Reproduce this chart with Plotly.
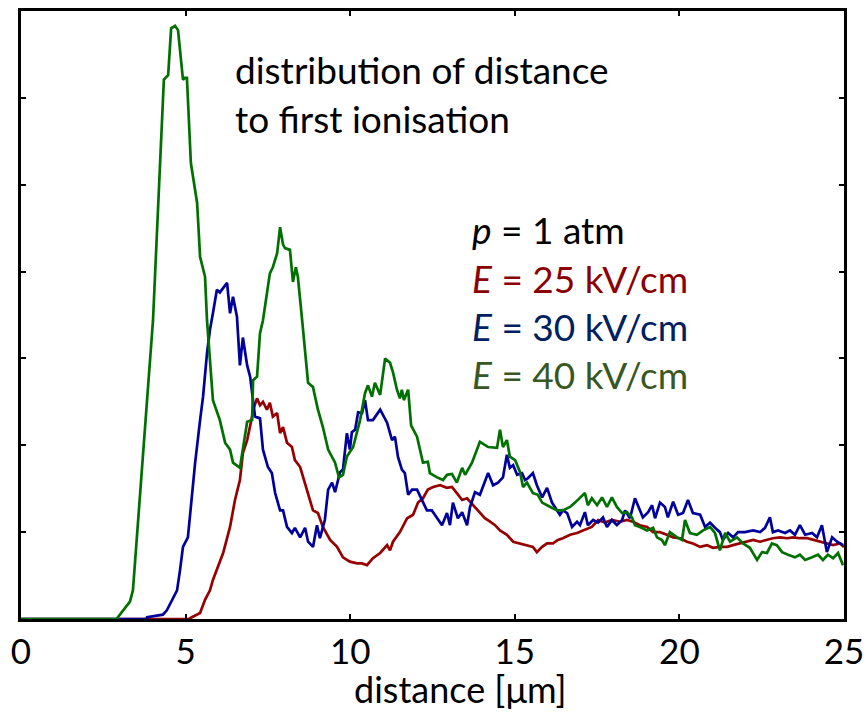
import plotly.graph_objects as go

# distance [µm] and distribution values (arbitrary units)
x_red = [0, 5.1, 5.19, 5.44, 5.59, 5.74, 5.83, 6.14, 6.35, 6.50, 6.65, 6.74, 6.87, 6.96, 7.08, 7.17, 7.26, 7.35,
         7.47, 7.56, 7.65, 7.78, 7.87, 7.96, 8.08, 8.23, 8.32, 8.48, 8.57, 8.72, 8.87, 9.02, 9.17, 9.39, 9.60,
         9.78, 9.99, 10.21, 10.36, 10.51, 10.69, 10.91, 11.12, 11.21, 11.30, 11.51, 11.73, 11.91, 12.06, 12.21,
         12.36, 12.52, 12.73, 12.94, 13.09, 13.24, 13.40, 13.55, 13.73, 13.88, 14.09, 14.25, 14.40, 14.55, 14.76,
         14.95, 15.16, 15.40, 15.55, 15.67, 15.83, 15.98, 16.16, 16.31, 16.46, 16.68, 16.89, 17.07, 17.34, 17.53,
         17.74, 17.95, 18.20, 18.41, 18.59, 18.80, 19.02, 19.20, 19.41, 19.62, 19.81, 20.02, 20.23, 20.41, 20.63,
         20.84, 21.02, 21.23, 21.45, 21.63, 21.84, 22.05, 22.24, 22.45, 22.66, 22.84, 23.06, 23.27, 23.45, 23.66,
         23.88, 24.06, 24.27, 24.48, 24.67, 24.88, 25.0]
y_red = [0, 0, 0.02, 0.07, 0.22, 0.33, 0.45, 0.76, 1.06, 1.37, 1.60, 1.91, 2.06, 2.21, 2.44, 2.54, 2.46, 2.50,
         2.41, 2.49, 2.33, 2.37, 2.14, 2.21, 2.03, 1.98, 1.83, 1.75, 1.63, 1.45, 1.25, 1.22, 1.06, 0.91, 0.83,
         0.71, 0.66, 0.64, 0.64, 0.62, 0.70, 0.76, 0.85, 0.79, 0.89, 1.00, 1.16, 1.20, 1.34, 1.39,
         1.49, 1.52, 1.54, 1.51, 1.52, 1.45, 1.37, 1.39, 1.31, 1.25, 1.16, 1.12, 1.08, 1.02, 0.97,
         0.89, 0.87, 0.85, 0.83, 0.77, 0.83, 0.87, 0.87, 0.91, 0.93, 0.97, 0.99, 1.02, 1.06, 1.14,
         1.11, 1.14, 1.12, 1.14, 1.12, 1.08, 1.06, 1.00, 1.00, 0.97, 0.94, 0.93, 0.89, 0.87, 0.83,
         0.85, 0.82, 0.83, 0.83, 0.85, 0.87, 0.89, 0.91, 0.89, 0.91, 0.93, 0.94, 0.93, 0.94, 0.93,
         0.93, 0.91, 0.89, 0.87, 0.85, 0.87, 0.83]

x_blue = [0, 3.8, 3.83, 4.31, 4.43, 4.62, 4.74, 4.83, 4.92, 5.07, 5.29, 5.44, 5.53, 5.65, 5.74, 5.83, 5.95, 6.04,
          6.14, 6.26, 6.35, 6.44, 6.56, 6.65, 6.74, 6.87, 6.96, 7.11, 7.26, 7.35, 7.50, 7.62, 7.72, 7.87, 7.96,
          8.08, 8.23, 8.32, 8.48, 8.63, 8.72, 8.87, 8.99, 9.08, 9.23, 9.33, 9.45, 9.54, 9.69, 9.78, 9.90, 9.99,
          10.05, 10.15, 10.24, 10.36, 10.45, 10.54, 10.69, 10.91, 11.12, 11.27, 11.36, 11.45, 11.57, 11.66, 11.76,
          11.88, 12.03, 12.18, 12.33, 12.48, 12.64, 12.79, 12.94, 13.03, 13.12, 13.27, 13.40, 13.55, 13.64, 13.79,
          13.94, 14.09, 14.19, 14.34, 14.49, 14.64, 14.76, 14.85, 14.95, 15.07, 15.22, 15.31, 15.40, 15.55, 15.67,
          15.83, 15.98, 16.13, 16.22, 16.37, 16.46, 16.59, 16.74, 16.89, 16.98, 17.13, 17.22, 17.38, 17.53, 17.68,
          17.80, 17.95, 18.10, 18.26, 18.35, 18.50, 18.65, 18.80, 18.89, 19.05, 19.17, 19.26, 19.41, 19.56, 19.65,
          19.81, 19.96, 20.11, 20.26, 20.41, 20.63, 20.78, 20.93, 21.08, 21.23, 21.32, 21.48, 21.63, 21.78, 21.99,
          22.24, 22.45, 22.60, 22.75, 22.84, 23.00, 23.21, 23.36, 23.51, 23.66, 23.82, 24.03, 24.18, 24.33, 24.48,
          24.64, 24.79, 24.97]
y_blue = [0, 0, 0.02, 0.05, 0.10, 0.25, 0.33, 0.56, 0.83, 0.94, 1.80, 2.29, 2.56, 3.06, 3.33, 3.52, 3.79, 3.76,
          3.81, 3.87, 3.52, 3.71, 3.48, 2.92, 3.24, 2.92, 2.79, 2.33, 2.31, 1.95, 1.75, 1.68, 1.45, 1.25, 1.25,
          1.06, 0.99, 1.05, 0.94, 1.05, 0.89, 0.83, 1.08, 0.93, 1.14, 1.49, 1.57, 1.46, 1.69, 1.72, 2.14, 1.95,
          2.15, 2.18, 2.38, 2.37, 2.52, 2.29, 2.29, 2.41, 2.26, 2.06, 2.10, 1.87, 1.72, 1.68, 1.43,
          1.49, 1.49, 1.37, 1.25, 1.25, 1.16, 1.08, 1.22, 1.08, 1.34, 1.16, 1.23, 1.08, 1.29, 1.46,
          1.43, 1.57, 1.68, 1.54, 1.57, 1.63, 1.89, 1.74, 1.77, 1.66, 1.68, 1.60, 1.62, 1.68, 1.54,
          1.40, 1.51, 1.34, 1.29, 1.20, 1.25, 1.22, 1.06, 1.12, 1.08, 1.23, 1.08, 1.14, 1.11, 1.17,
          1.06, 1.14, 1.08, 1.14, 1.25, 1.16, 1.39, 1.25, 1.17, 1.23, 1.31, 1.16, 1.34, 1.29, 1.17,
          1.35, 1.20, 1.22, 1.37, 1.22, 1.20, 1.06, 1.11, 1.05, 1.00, 0.91, 0.99, 0.94, 1.00, 1.00,
          1.02, 1.00, 1.05, 1.17, 1.00, 1.02, 0.99, 1.02, 0.97, 1.08, 0.97, 0.99, 0.94, 1.08, 0.77,
          0.94, 0.89, 0.85]

x_green = [0, 2.9, 3.31, 3.40, 4.01, 4.22, 4.34, 4.47, 4.56, 4.68, 4.77, 4.92, 4.98, 5.04, 5.16, 5.35, 5.44, 5.59,
           5.65, 5.83, 6.04, 6.20, 6.35, 6.44, 6.65, 6.87, 7.02, 7.05, 7.17, 7.26, 7.35, 7.56, 7.65, 7.78, 7.87,
           7.96, 8.02, 8.17, 8.26, 8.35, 8.41, 8.54, 8.72, 8.87, 9.02, 9.17, 9.33, 9.54, 9.66, 9.78, 9.90, 10.09,
           10.30, 10.45, 10.54, 10.66, 10.75, 10.91, 11.06, 11.21, 11.30, 11.42, 11.51, 11.57, 11.63, 11.76, 11.85,
           12.03, 12.21, 12.36, 12.42, 12.64, 12.82, 12.94, 13.09, 13.24, 13.40, 13.49, 13.70, 13.94, 14.19, 14.46,
           14.55, 14.64, 14.76, 14.85, 15.01, 15.16, 15.25, 15.37, 15.55, 15.70, 15.83, 15.98, 16.13, 16.28, 16.46,
           16.68, 16.83, 16.98, 17.13, 17.22, 17.34, 17.50, 17.65, 17.80, 17.95, 18.10, 18.26, 18.41, 18.56, 18.65,
           18.80, 19.02, 19.20, 19.32, 19.47, 19.56, 19.71, 19.93, 20.08, 20.17, 20.32, 20.53, 20.72, 20.93, 21.08,
           21.23, 21.39, 21.54, 21.75, 21.93, 22.14, 22.36, 22.51, 22.66, 22.81, 22.96, 23.12, 23.30, 23.51, 23.66,
           23.82, 24.03, 24.21, 24.36, 24.51, 24.67, 24.82, 24.97]
y_green = [0, 0, 0.20, 0.33, 3.44, 5.13, 6.21, 6.26, 6.80, 6.83, 6.78, 6.21, 6.23, 6.23, 5.25, 4.79, 4.17, 3.94,
           3.44, 2.52, 2.29, 2.03, 1.95, 1.80, 1.74, 2.27, 2.29, 2.75, 2.79, 3.29, 3.44, 3.98, 4.05, 4.21, 4.51,
           4.31, 4.27, 4.25, 3.88, 4.05, 3.94, 3.44, 2.72, 2.67, 2.41, 2.21, 1.95, 1.80, 1.63, 1.66, 1.87, 1.98,
           2.29, 2.60, 2.69, 2.56, 2.72, 2.58, 3.00, 2.95, 2.84, 2.64, 2.54, 2.64, 2.52, 2.64, 2.23,
           2.10, 1.80, 1.81, 1.68, 1.63, 1.60, 1.66, 1.67, 1.57, 1.74, 1.66, 1.80, 2.04, 1.98, 1.97,
           2.18, 1.98, 2.06, 1.87, 1.83, 1.69, 1.52, 1.57, 1.45, 1.43, 1.34, 1.31, 1.28, 1.25, 1.25,
           1.29, 1.34, 1.39, 1.45, 1.31, 1.39, 1.31, 1.40, 1.29, 1.40, 1.29, 1.22, 1.23, 1.17, 1.08,
           1.06, 1.02, 1.05, 0.94, 0.91, 0.85, 1.00, 0.94, 0.91, 1.14, 0.99, 0.97, 1.02, 1.06, 0.99,
           0.79, 0.99, 0.89, 0.94, 0.87, 0.82, 0.68, 0.77, 0.76, 0.87, 0.85, 0.77, 0.74, 0.71, 0.74,
           0.68, 0.71, 0.74, 0.68, 0.74, 0.70, 0.76, 0.62]

x_ticks = [0, 5, 10, 15, 20, 25]
x_title = "distance [μm]"
label_lines = ["distribution of distance", "to first ionisation"]
legend_texts = ["<i>p</i> = 1 atm", "<i>E</i> = 25 kV/cm", "<i>E</i> = 30 kV/cm", "<i>E</i> = 40 kV/cm"]

FONT = "Lato, 'Open Sans', sans-serif"
line_colors = {"red": "#960000", "blue": "#00009c", "green": "#007000"}
text_colors = ["#000000", "#8b0000", "#002060", "#385723"]

fig = go.Figure()
for xs, ys, c in [(x_red, y_red, line_colors["red"]),
                  (x_blue, y_blue, line_colors["blue"]),
                  (x_green, y_green, line_colors["green"])]:
    fig.add_trace(go.Scatter(x=xs, y=ys, mode="lines", line=dict(color=c, width=2.7),
                             showlegend=False, hoverinfo="skip"))

fig.update_layout(
    width=866, height=714,
    margin=dict(l=21, r=22, t=11, b=95, autoexpand=False),
    paper_bgcolor="white", plot_bgcolor="white",
    font=dict(family=FONT, color="black"),
    xaxis=dict(range=[0, 25], tickvals=x_ticks, ticktext=[str(t) for t in x_ticks], automargin=False,
               showgrid=False, zeroline=False, showline=True, linecolor="black", linewidth=3,
               mirror="ticks", ticks="inside", ticklen=5, tickwidth=2, tickcolor="black",
               tickfont=dict(size=35, family=FONT, color="black"), ticklabelstandoff=0),
    yaxis=dict(range=[0, 7], dtick=1, tick0=0, showticklabels=False, automargin=False,
               showgrid=False, zeroline=False, showline=True, linecolor="black", linewidth=3,
               mirror="ticks", ticks="inside", ticklen=5, tickwidth=2, tickcolor="black"),
)

# axis title
fig.add_annotation(x=13.35, xref="x", y=-0.115, yref="paper", text=x_title, showarrow=False,
                   xanchor="center", yanchor="middle", font=dict(size=36, family=FONT, color="black"))

# description text
for txt, yv in zip(label_lines, [6.33, 5.76]):
    fig.add_annotation(x=6.44, y=yv, xref="x", yref="y", text=txt, showarrow=False,
                       xanchor="left", yanchor="middle", font=dict(size=37, family=FONT, color="black"))

for txt, yv, col in zip(legend_texts, [4.49, 3.92, 3.37, 2.82], text_colors):
    fig.add_annotation(x=13.64, y=yv, xref="x", yref="y", text=txt, showarrow=False,
                       xanchor="left", yanchor="middle", font=dict(size=37, family=FONT, color=col))

fig.write_html("out.html")
